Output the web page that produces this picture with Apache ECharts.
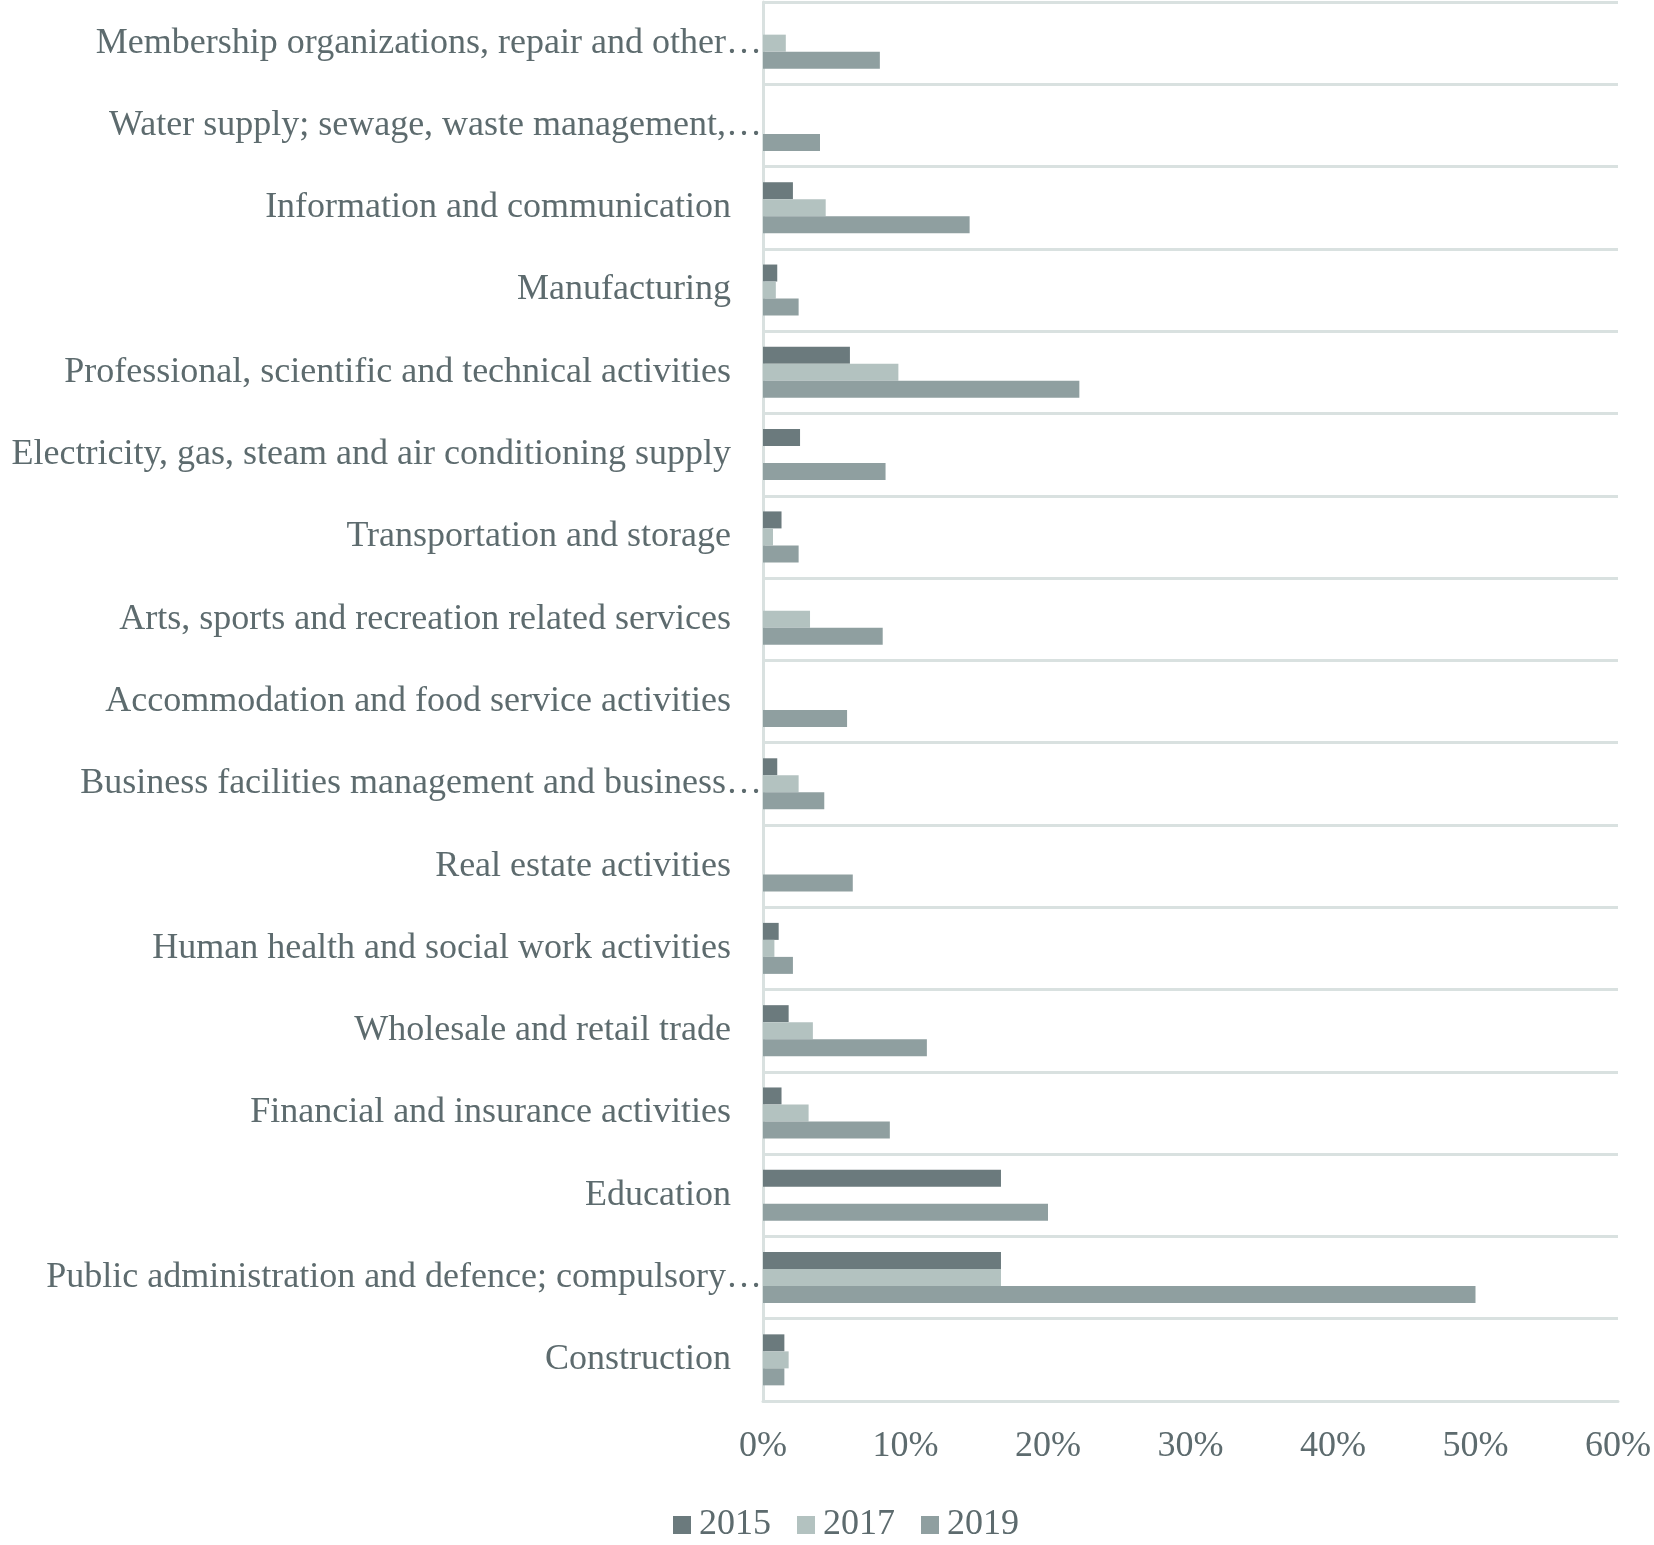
<!DOCTYPE html>
<html>
<head>
    <meta charset="utf-8">
    <title>Share by sector</title>
    <script src="https://cdn.jsdelivr.net/npm/echarts@6/dist/echarts.min.js"></script>
    <style>
        html, body { margin: 0; padding: 0; background: #fff; }
        #main { width: 1654px; height: 1545px; }
    </style>
</head>
<body>
<div id="main"></div>
<script>
    // categories, top to bottom as shown
    var sectors = [
        'Membership organizations, repair and other…',
        'Water supply; sewage, waste management,…',
        'Information and communication',
        'Manufacturing',
        'Professional, scientific and technical activities',
        'Electricity, gas, steam and air conditioning supply',
        'Transportation and storage',
        'Arts, sports and recreation related services',
        'Accommodation and food service activities',
        'Business facilities management and business…',
        'Real estate activities',
        'Human health and social work activities',
        'Wholesale and retail trade',
        'Financial and insurance activities',
        'Education',
        'Public administration and defence; compulsory…',
        'Construction'
    ];
    // percent values per year
    var y2015 = [0, 0, 2.1, 1.0, 6.1, 2.6, 1.3, 0, 0, 1.0, 0, 1.1, 1.8, 1.3, 16.7, 16.7, 1.5];
    var y2017 = [1.6, 0, 4.4, 0.9, 9.5, 0, 0.7, 3.3, 0, 2.5, 0, 0.8, 3.5, 3.2, 0, 16.7, 1.8];
    var y2019 = [8.2, 4.0, 14.5, 2.5, 22.2, 8.6, 2.5, 8.4, 5.9, 4.3, 6.3, 2.1, 11.5, 8.9, 20.0, 50.0, 1.5];
    var years = ['2015', '2017', '2019'];
    var colors = ['#6b7a7d', '#b3c2c0', '#8f9fa0'];

    var textColor = '#5d6b6e';
    var lineColor = '#d9e1e0';
    var font = 'Liberation Serif';
    var fs = 36;

    var chart = echarts.init(document.getElementById('main'));

    var mkSeries = function (name, data, i) {
        return {
            name: name,
            type: 'bar',
            data: data,
            barWidth: 17,
            barGap: '0%',
            itemStyle: { color: colors[i] },
            emphasis: { disabled: true }
        };
    };

    var option = {
        animation: false,
        textStyle: { fontFamily: font },
        grid: { left: 763, right: 35, top: 2, bottom: 144 },
        legend: {
            data: years,
            top: 1502,
            left: 668,
            itemWidth: 18,
            itemHeight: 18,
            itemGap: 26,
            icon: 'rect',
            textStyle: { color: textColor, fontSize: fs, fontFamily: font, padding: [0, 0, 0, 3] }
        },
        xAxis: {
            type: 'value',
            min: 0,
            max: 60,
            interval: 10,
            axisLine: { show: true, lineStyle: { color: lineColor, width: 3 } },
            axisTick: { show: false },
            splitLine: { show: false },
            axisLabel: {
                margin: 28,
                color: textColor,
                fontSize: fs,
                fontFamily: font,
                formatter: '{value}%'
            }
        },
        yAxis: {
            type: 'category',
            inverse: true,
            data: sectors,
            axisLine: { show: true, lineStyle: { color: lineColor, width: 3 } },
            axisTick: { show: false },
            splitLine: { show: true, lineStyle: { color: lineColor, width: 3 } },
            axisLabel: {
                margin: 1,
                color: textColor,
                fontSize: fs,
                fontFamily: font,
                formatter: function (v) {
                    // truncated names run up to the axis, full ones keep a gap
                    return v.slice(-1) === '…' ? '{t|' + v + '}' : '{f|' + v + '}';
                },
                rich: {
                    t: { color: textColor, fontSize: fs, fontFamily: font },
                    f: { color: textColor, fontSize: fs, fontFamily: font, padding: [0, 31, 0, 0] }
                }
            }
        },
        series: [
            mkSeries(years[0], y2015, 0),
            mkSeries(years[1], y2017, 1),
            mkSeries(years[2], y2019, 2)
        ]
    };

    chart.setOption(option);
</script>
</body>
</html>
